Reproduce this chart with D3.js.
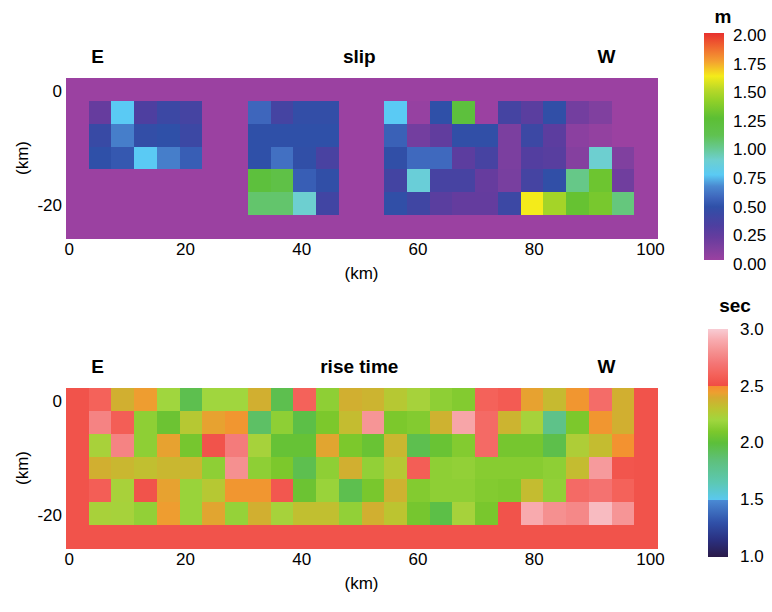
<!DOCTYPE html>
<html>
<head>
<meta charset="utf-8">
<script src="https://cdn.jsdelivr.net/npm/d3@7"></script>
<style>
  body { margin: 0; background: #fff; }
  svg  { display: block; font-family: "Liberation Sans", Arial, Helvetica, sans-serif; }
</style>
</head>
<body>
<svg id="chart" width="772" height="612"></svg>
<script>
// ---- data -----------------------------------------------------------
// fault grid is 26 columns x 7 rows; the outer ring is padding (edge value)
const xTicks = [0, 20, 40, 60, 80, 100];
const yTicks = [0, -20];

// slip (m), data rows 1..5, columns 1..24
const slipRows = [
  [0.20,0.75,0.30,0.40,0.35,0,0,0.55,0.35,0.45,0.45,0,0,0.75,0.02,0.47,1.20,0,0.35,0.25,0.46,0.15,0.10,0],
  [0.42,0.62,0.45,0.47,0.40,0,0,0.47,0.47,0.47,0.47,0,0,0.53,0.15,0.22,0.46,0.46,0.12,0.40,0.24,0.06,0.03,0],
  [0.47,0.50,0.75,0.62,0.52,0,0,0.47,0.58,0.46,0.33,0,0,0.46,0.56,0.56,0.24,0.34,0.12,0.28,0.26,0.08,0.88,0.10],
  [0,0,0,0,0,0,0,1.20,1.15,0.52,0.46,0,0,0.36,0.85,0.34,0.34,0.20,0.13,0.35,0.46,1.00,1.30,0.16],
  [0,0,0,0,0,0,0,1.05,1.05,0.88,0.37,0,0,0.46,0.38,0.25,0.21,0.21,0.40,1.62,1.45,1.28,1.33,1.02]
];
const slipEdge = 0;

// rise time (sec), data rows 0..5, columns 1..24
const riseRows = [
  [2.60,2.38,2.45,2.20,1.95,2.20,2.20,2.38,1.95,2.60,2.15,2.38,2.36,2.28,2.22,2.15,2.12,2.60,2.57,2.43,2.34,2.47,2.65,2.38],
  [2.75,2.58,2.15,2.05,2.28,2.43,2.47,1.90,2.15,1.97,2.10,2.33,2.82,2.10,2.12,2.37,2.88,2.64,2.36,2.22,1.80,2.10,2.47,2.38],
  [2.23,2.75,2.15,2.43,2.08,2.53,2.72,2.22,2.03,2.03,2.42,2.10,2.04,2.35,1.95,2.04,2.12,2.64,2.08,2.08,1.96,2.25,2.33,2.48],
  [2.38,2.35,2.32,2.35,2.35,2.15,2.80,2.15,2.10,1.95,2.15,2.38,2.16,2.28,2.58,2.15,2.16,2.13,2.13,2.13,2.15,2.33,2.84,2.54],
  [2.58,2.23,2.53,2.43,2.18,2.28,2.47,2.47,2.55,2.05,2.18,1.95,2.09,2.37,2.12,2.15,2.15,2.12,2.11,2.33,2.16,2.64,2.68,2.60],
  [2.23,2.22,2.16,2.45,2.18,2.42,2.17,2.38,2.22,2.32,2.32,2.16,2.38,2.30,2.08,1.97,2.22,2.09,2.53,2.90,2.80,2.77,2.95,2.82]
];
const riseEdge = 2.53;

// colour tables
const slipStops  = [0, 0.10, 0.20, 0.30, 0.40, 0.47, 0.55, 0.65, 0.75, 0.88, 1.00, 1.10, 1.25, 1.40, 1.50, 1.62, 1.75, 1.87, 2.00];
const slipColors = ["#9b41a1","#80409f","#663c9e","#4e3fa0","#3c48a4","#2f50a8","#3e66bc","#4a88d0","#5acaf4",
                    "#6dcfd0","#66c888","#60c250","#5cbf34","#90d028","#b8d828","#f4eb1a","#f4a030","#f06a30","#e8302e"];
const slipTicks  = [0, 0.25, 0.5, 0.75, 1, 1.25, 1.5, 1.75, 2];

const riseStops  = [1.0, 1.15, 1.3, 1.499, 1.5, 1.65, 1.85, 2.0, 2.1, 2.2, 2.3, 2.4, 2.44, 2.499, 2.5, 2.6, 2.7, 2.8, 2.9, 3.0];
const riseColors = ["#2a1a48","#2a3080","#3050a8","#4a8ad4","#5ac8f0","#5cc8b4","#5ec07a","#5cbf3a","#7cc82c","#a0d63e",
                    "#bcc430","#d6aa30","#eca030","#f68c30","#f04c44","#f4625a","#f47676","#f59090","#f8aaae","#f8ccd4"];
const riseTicks  = [1, 1.5, 2, 2.5, 3];

// ---- layout ---------------------------------------------------------
const NCOL = 26, NROW = 7;
const colX0 = -0.45, colW = 3.91;   // km
const rowY0 = 2.3,  rowH = 4;       // km
const plotL = 66, plotR = 657, plotH = 160;

const svg = d3.select("#chart");
const defs = svg.append("defs");

const x = d3.scaleLinear([colX0, colX0 + NCOL * colW], [plotL, plotR]);
const plain = d => String(d);   // ascii hyphen for negatives

function buildCells(rows, rowOff, edge) {
  const cells = [];
  for (let r = 0; r < NROW; r++) {
    for (let c = 0; c < NCOL; c++) {
      const dr = r - rowOff;
      const inside = dr >= 0 && dr < rows.length && c >= 1 && c <= 24;
      cells.push({ r, c, v: inside ? rows[dr][c - 1] : edge });
    }
  }
  return cells;
}

function panel({ rows, rowOff, edge, color, top, title }) {
  const y = d3.scaleLinear([rowY0, rowY0 - NROW * rowH], [top, top + plotH]);
  const g = svg.append("g");

  g.append("g").attr("shape-rendering", "crispEdges").selectAll("rect")
    .data(buildCells(rows, rowOff, edge))
    .join("rect")
      .attr("x", d => x(colX0 + d.c * colW))
      .attr("y", d => y(rowY0 - d.r * rowH))
      .attr("width", d => x(colX0 + (d.c + 1) * colW) - x(colX0 + d.c * colW) + 0.5)
      .attr("height", d => y(rowY0 - (d.r + 1) * rowH) - y(rowY0 - d.r * rowH) + 0.5)
      .attr("fill", d => color(d.v));

  const xa = g.append("g")
    .attr("transform", `translate(0,${top + plotH})`)
    .call(d3.axisBottom(x).tickValues(xTicks).tickFormat(plain).tickSize(0).tickPadding(5));
  const ya = g.append("g")
    .attr("transform", `translate(${plotL},0)`)
    .call(d3.axisLeft(y).tickValues(yTicks).tickFormat(plain).tickSize(0).tickPadding(4));
  [xa, ya].forEach(a => {
    a.select(".domain").remove();
    a.selectAll("text").attr("fill", "#000").attr("font-size", 17)
      .attr("font-family", null);
  });

  // axis titles
  g.append("text")
    .attr("x", (plotL + plotR) / 2).attr("y", top + plotH + 41)
    .attr("text-anchor", "middle").attr("font-size", 17).text("(km)");
  g.append("text")
    .attr("transform", `translate(28,${top + plotH / 2}) rotate(-90)`)
    .attr("text-anchor", "middle").attr("font-size", 17).text("(km)");

  // headers
  const hy = top - 15;
  [[5, "E"], [50, title], [92.5, "W"]].forEach(([km, t]) => {
    g.append("text")
      .attr("x", x(km)).attr("y", hy)
      .attr("text-anchor", "middle").attr("font-size", 19).attr("font-weight", "bold")
      .text(t);
  });
}

function colorbar({ id, stops, colors, ticks, fmt, x0, y0, y1, unit, unitX, unitY, labelPad, labelY0, labelY1 }) {
  const lo = stops[0], hi = stops[stops.length - 1];
  const s = d3.scaleLinear([lo, hi], [labelY1, labelY0]);
  const grad = defs.append("linearGradient")
    .attr("id", id).attr("x1", 0).attr("y1", 1).attr("x2", 0).attr("y2", 0);
  grad.selectAll("stop").data(stops).join("stop")
    .attr("offset", d => (d - lo) / (hi - lo))
    .attr("stop-color", (d, i) => colors[i]);

  svg.append("rect")
    .attr("x", x0).attr("y", y0).attr("width", 20).attr("height", y1 - y0)
    .attr("fill", `url(#${id})`);

  const a = svg.append("g")
    .attr("transform", `translate(${x0 + 20},0)`)
    .call(d3.axisRight(s).tickValues(ticks).tickFormat(d3.format(fmt)).tickSize(0).tickPadding(labelPad));
  a.select(".domain").remove();
  a.selectAll("text").attr("fill", "#000").attr("font-size", 17).attr("font-family", null);

  svg.append("text")
    .attr("x", unitX).attr("y", unitY)
    .attr("text-anchor", "middle").attr("font-size", 19).attr("font-weight", "bold")
    .text(unit);
}

const slipColor = d3.scaleLinear(slipStops, slipColors).clamp(true);
const riseColor = d3.scaleLinear(riseStops, riseColors).clamp(true);

panel({ rows: slipRows, rowOff: 1, edge: slipEdge, color: slipColor, top: 78,  title: "slip" });
panel({ rows: riseRows, rowOff: 0, edge: riseEdge, color: riseColor, top: 388, title: "rise time" });

colorbar({ id: "gSlip", stops: slipStops, colors: slipColors, ticks: slipTicks, fmt: ".2f",
           x0: 704, y0: 33, y1: 260, labelY0: 35, labelY1: 264,
           unit: "m", unitX: 723, unitY: 23, labelPad: 9 });
colorbar({ id: "gRise", stops: riseStops, colors: riseColors, ticks: riseTicks, fmt: ".1f",
           x0: 708, y0: 329, y1: 557, labelY0: 329, labelY1: 556,
           unit: "sec", unitX: 735, unitY: 312, labelPad: 12 });
</script>
</body>
</html>
